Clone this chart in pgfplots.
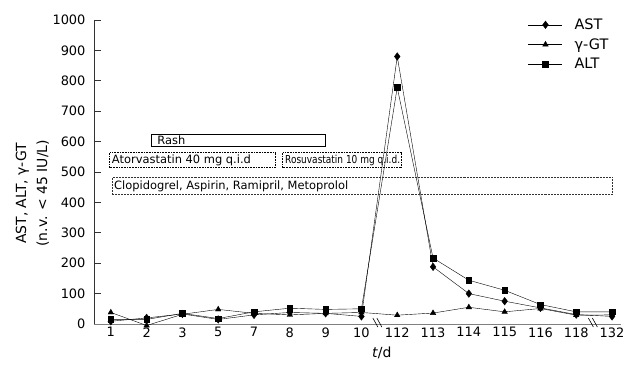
\documentclass[border=0pt]{standalone}
\usepackage{pgfplots}
\pgfplotsset{compat=1.18}
\usepackage{fontspec}
\setmainfont{DejaVu Sans}
\begin{document}
\begin{tikzpicture}
\useasboundingbox (-94bp,-41bp) rectangle (532bp,324bp);
\begin{axis}[
  scale only axis, width=527bp, height=304bp,
  xmin=-0.47, xmax=14.25, ymin=0, ymax=1000,
  clip=false,
  axis x line=bottom, axis y line=left,
  x axis line style={-, gray, line width=1pt},
  y axis line style={-, black!80, line width=0.8pt},
  xtick={0,...,14},
  xticklabels={1,2,3,5,7,8,9,10,112,113,114,115,116,118,132},
  xtick style={draw=none},
  ytick={0,100,...,1000},
  tick align=inside, major tick length=7bp,
  ytick style={black!80, line width=0.8pt},
  /pgf/number format/assume math mode=true,
  ticklabel style={font=\fontsize{13}{15}\selectfont},
  yticklabel style={/pgf/number format/1000 sep={}, xshift=-5bp},
  xlabel={\textit{t}/d},
  xlabel style={at={(axis description cs:0.546,-0.095)}, anchor=center, font=\fontsize{14}{16}\selectfont},
  ylabel={AST, ALT, γ-GT\\(n.v. < 45 IU/L)},
  ylabel style={at={(axis description cs:-0.117,0.43)}, anchor=center, align=center, font=\fontsize{14}{21}\selectfont},
  legend style={draw=none, fill=none, at={(axis description cs:0.818,1.018)}, anchor=north west,
    font=\fontsize{14.5}{16}\selectfont, row sep=3.5pt},
  legend cell align=left,
  legend image code/.code={\draw[mark repeat=2,mark phase=2,#1] plot coordinates {(0cm,0cm) (0.6cm,0cm) (1.2cm,0cm)}; \path (1.55cm,0cm);},
]
\addplot[black, thin, mark=diamond*, mark size=3.8pt] coordinates {
(0,9) (1,20) (2,33) (3,15) (4,30) (5,38) (6,35) (7,25)
(8,880) (9,188) (10,100) (11,75) (12,53) (13,31) (14,25)};
\addlegendentry{AST}
\addplot[black, thin, mark=triangle*, mark size=3.2pt] coordinates {
(0,38) (1,-5) (2,32) (3,48) (4,35) (5,30) (6,35) (7,38)
(8,29) (9,36) (10,55) (11,40) (12,51) (13,29) (14,30)};
\addlegendentry{γ-GT}
\addplot[black, thin, mark=square*, mark size=2.8pt] coordinates {
(0,15) (1,15) (2,35) (3,18) (4,40) (5,52) (6,48) (7,50)
(8,778) (9,217) (10,144) (11,111) (12,64) (13,40) (14,40)};
\addlegendentry{ALT}
% annotation boxes
\draw[black, line width=0.7pt] (axis cs:1.12,584) rectangle (axis cs:6.0,623);
\node[anchor=west, font=\fontsize{11.5}{14}\selectfont] at (axis cs:1.2,603.5) {Rash};
\draw[black, densely dotted, line width=0.6pt] (axis cs:-0.03,514) rectangle (axis cs:4.58,564);
\node[anchor=west, font=\fontsize{11.5}{14}\selectfont, inner sep=2bp] at (axis cs:-0.03,539) {Atorvastatin 40 mg q.i.d};
\draw[black, densely dotted, line width=0.6pt] (axis cs:4.8,514) rectangle (axis cs:8.12,564);
\node[anchor=west, font=\fontsize{11}{13}\selectfont, inner sep=2bp, xscale=0.82] at (axis cs:4.82,539) {Rosuvastatin 10 mg q.i.d.};
\draw[black!80, densely dotted, line width=0.5pt] (axis cs:0.03,426) rectangle (axis cs:14,482);
\node[anchor=west, font=\fontsize{11.5}{14}\selectfont, inner sep=2bp] at (axis cs:0.03,454) {Clopidogrel, Aspirin, Ramipril, Metoprolol};
% axis break marks
\draw[black, line width=0.6pt] ([xshift=-4bp,yshift=6bp]axis cs:7.43,0) -- ++(5bp,-9bp);
\draw[black, line width=0.6pt] ([xshift=0bp,yshift=6bp]axis cs:7.43,0) -- ++(5bp,-9bp);
\draw[black, line width=0.6pt] ([xshift=-4bp,yshift=6bp]axis cs:13.45,0) -- ++(5bp,-9bp);
\draw[black, line width=0.6pt] ([xshift=0bp,yshift=6bp]axis cs:13.45,0) -- ++(5bp,-9bp);
\end{axis}
\end{tikzpicture}
\end{document}
